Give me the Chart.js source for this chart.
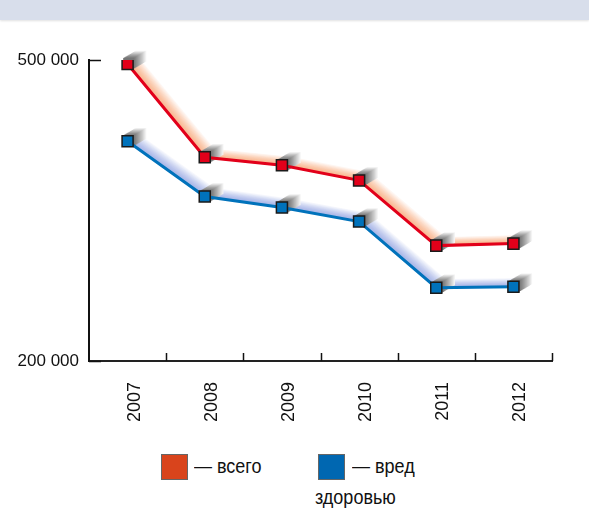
<!DOCTYPE html>
<html>
<head>
<meta charset="utf-8">
<script src="https://cdn.jsdelivr.net/npm/chart.js@4.4.0/dist/chart.umd.min.js"></script>
<style>
  body { margin: 0; background: #fff; width: 589px; height: 530px; position: relative; overflow: hidden; }
  #band { position: absolute; left: 0; top: 0; width: 589px; height: 20px; background: #d8deeb; box-shadow: 0 1px 2px rgba(0,0,0,0.12); z-index: 2; }
  #chart { position: absolute; left: 0; top: 0; }
  .key { position: absolute; width: 25px; height: 24px; border: 1px solid #666; }
  .txt { position: absolute; font-family: "Liberation Sans", sans-serif; font-size: 20px; color: #111; line-height: 24px; transform: scaleX(0.9); transform-origin: left center; white-space: nowrap; }
</style>
</head>
<body>
<div id="band"></div>
<canvas id="chart" width="589" height="440"></canvas>

<div class="key" style="left:161px; top:454px; background:#d9441c;"></div>
<div class="txt" style="left:194px; top:454px;">— всего</div>
<div class="key" style="left:318px; top:454px; background:#0067b1;"></div>
<div class="txt" style="left:352px; top:454px;">— вред</div>
<div class="txt" style="left:315px; top:485px;">здоровью</div>

<script>
// years on the bottom axis
var years = ['2007', '2008', '2009', '2010', '2011', '2012'];
// all cases
var totalValues = [496000, 403000, 395000, 380000, 315000, 317000];
// cases of harm to health
var healthValues = [419000, 364000, 353000, 339000, 273000, 274000];
// only two marks on the value axis
var yTicks = [200000, 500000];

var fmt = function(v) {
  return String(v).replace(/\B(?=(\d{3})+(?!\d))/g, ' ');
};

// blend an [r,g,b] colour towards white, t = 0..1
var mix = function(rgb, t) {
  var c = rgb.map(function(v) { return Math.round(v + (255 - v) * t); });
  return 'rgb(' + c.join(',') + ')';
};

// soft band behind each line and a grey block behind each marker
var ribbon = {
  id: 'ribbon',
  beforeDatasetsDraw: function(chart) {
    var ctx = chart.ctx;
    chart.data.datasets.forEach(function(ds, i) {
      var pts = chart.getDatasetMeta(i).data;
      var steps = 12;
      ctx.save();
      ctx.lineWidth = 3;
      ctx.lineJoin = 'round';
      // far strokes first, the ones near the line paint over them
      for (var k = steps; k >= 1; k--) {
        var dx = k * 0.8, dy = -k * 0.65;
        ctx.strokeStyle = mix(ds.ribbonColor, Math.pow(k / steps, 1.3));
        ctx.beginPath();
        pts.forEach(function(p, j) {
          if (j === 0) ctx.moveTo(p.x + dx, p.y + dy);
          else ctx.lineTo(p.x + dx, p.y + dy);
        });
        ctx.stroke();
      }
      // grey extrusion behind markers
      pts.forEach(function(p) {
        for (var k = 12; k >= 1; k--) {
          ctx.fillStyle = mix([110, 110, 110], Math.pow(k / 12, 1.2) * 0.92);
          ctx.fillRect(p.x - 5.5 + k * 1.1, p.y - 5.5 - k * 0.65, 11, 11);
        }
      });
      ctx.restore();
    });
  }
};

// short tick marks pointing into the plot
var innerTicks = {
  id: 'innerTicks',
  afterDraw: function(chart) {
    var ctx = chart.ctx;
    var x = chart.scales.x, y = chart.scales.y;
    var area = chart.chartArea;
    ctx.save();
    ctx.strokeStyle = '#111';
    ctx.lineWidth = 1.5;
    ctx.beginPath();
    yTicks.forEach(function(v) {
      var py = Math.round(y.getPixelForValue(v)) + 0.5;
      ctx.moveTo(area.left, py);
      ctx.lineTo(area.left + 12, py);
    });
    for (var i = 0; i < years.length; i++) {
      var bx = i < years.length - 1 ? (x.getPixelForTick(i) + x.getPixelForTick(i + 1)) / 2 : area.right;
      bx = Math.round(bx) + 0.5;
      ctx.moveTo(bx, area.bottom);
      ctx.lineTo(bx, area.bottom - 8);
    }
    ctx.stroke();
    ctx.restore();
  }
};

var ctx = document.getElementById('chart').getContext('2d');
var chart = new Chart(ctx, {
  type: 'line',
  data: {
    labels: years,
    datasets: [
      {
        label: 'всего',
        data: totalValues,
        borderColor: '#e2001a',
        borderWidth: 3,
        pointStyle: 'rect',
        pointRadius: 7.8,
        pointBackgroundColor: '#e2001a',
        pointBorderColor: '#1a1a1a',
        pointBorderWidth: 1.5,
        ribbonColor: [249, 184, 146],
        tension: 0
      },
      {
        label: 'вред здоровью',
        data: healthValues,
        borderColor: '#0072bb',
        borderWidth: 3,
        pointStyle: 'rect',
        pointRadius: 7.8,
        pointBackgroundColor: '#0072bb',
        pointBorderColor: '#1a1a1a',
        pointBorderWidth: 1.5,
        ribbonColor: [170, 183, 232],
        tension: 0
      }
    ]
  },
  options: {
    responsive: false,
    animation: false,
    devicePixelRatio: 1,
    layout: { padding: { top: 60, right: 37, left: 0, bottom: 0 } },
    plugins: { legend: { display: false }, tooltip: { enabled: false } },
    scales: {
      x: {
        offset: true,
        grid: { display: false, drawTicks: false },
        border: { color: '#222', width: 2 },
        ticks: {
          maxRotation: 90,
          minRotation: 90,
          padding: 21,
          labelOffset: 7,
          color: '#111',
          font: { family: 'Liberation Sans', size: 18 }
        },
        afterFit: function(scale) { scale.height = 79; }
      },
      y: {
        min: 200000,
        max: 500000,
        afterBuildTicks: function(scale) {
          scale.ticks = yTicks.map(function(v) { return { value: v }; });
        },
        grid: { display: false, drawTicks: false },
        border: { color: '#111', width: 2 },
        ticks: {
          padding: 10,
          color: '#111',
          font: { family: 'Liberation Sans', size: 17 },
          callback: function(v) { return fmt(v); }
        },
        afterFit: function(scale) { scale.width = 89; }
      }
    }
  },
  plugins: [ribbon, innerTicks]
});
</script>
</body>
</html>
